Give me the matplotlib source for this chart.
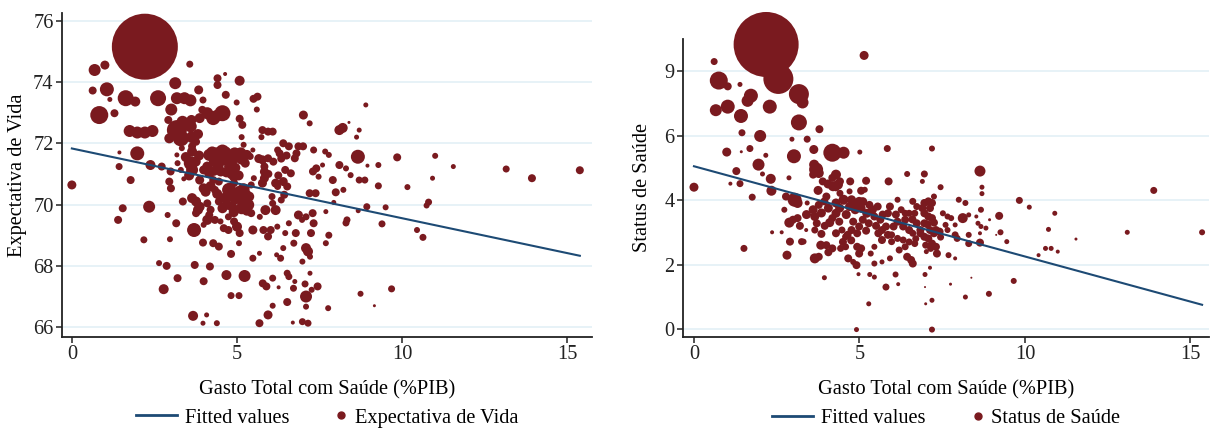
import matplotlib
matplotlib.use('Agg')
import matplotlib.pyplot as plt
from matplotlib.lines import Line2D
from matplotlib.legend_handler import HandlerLine2D

plt.rcParams['font.family'] = ['Liberation Serif', 'DejaVu Serif']

# painel 1 : gasto total com saude (%PIB) x expectativa de vida
gasto_esp = [
    2.21, 3.13, 2.61, 0.69, 1.00, 1.06, 0.63, 0.83, 1.63, 1.92,
    1.29, 1.15, 1.75, 1.98, 2.21, 2.44, 1.98, 2.38, 1.44, 1.43,
    1.78, 0.00, 2.34, 1.54, 1.40, 2.18, 2.64, 2.87, 2.78, 3.20,
    2.90, 2.97, 3.16, 3.57, 3.18, 3.41, 3.59, 3.01, 2.92, 3.62,
    3.18, 3.30, 3.64, 3.82, 2.95, 3.84, 3.97, 4.10, 4.28, 4.56,
    3.87, 3.95, 4.41, 4.41, 4.64, 5.08, 4.66, 4.99, 5.08, 5.16,
    5.14, 5.20, 5.50, 5.62, 5.60, 5.77, 5.94, 6.08, 5.74, 7.01,
    7.20, 8.10, 8.20, 8.90, 8.70, 8.62, 8.39, 8.66, 9.85, 11.00,
    11.55, 13.15, 13.93, 15.38, 9.28, 9.28, 10.16, 10.92, 10.80, 10.74,
    10.45, 10.63, 9.50, 9.39, 8.93, 8.67, 8.33, 8.30, 9.68, 8.74,
    9.16, 7.76, 7.78, 7.69, 7.69, 7.99, 8.22, 7.93, 7.90, 8.10,
    8.30, 8.44, 8.70, 8.87, 8.95, 7.78, 7.67, 7.59, 7.32, 7.47,
    7.30, 7.40, 7.20, 7.38, 7.29, 7.32, 7.24, 7.09, 7.15, 7.21,
    7.21, 7.44, 7.26, 7.06, 7.09, 7.09, 6.98, 7.15, 6.69, 5.94,
    6.08, 5.68, 6.52, 6.52, 6.57, 6.75, 6.71, 6.26, 6.08, 5.78,
    5.89, 5.48, 5.68, 6.32, 6.20, 6.40, 6.46, 6.72, 6.98, 6.78,
    6.86, 7.09, 6.97, 6.57, 6.22, 6.02, 5.94, 5.80, 5.48, 5.69,
    5.86, 6.17, 6.08, 6.06, 6.34, 6.52, 6.43, 6.23, 6.40, 6.17,
    6.63, 6.46, 6.75, 6.80, 6.86, 7.00, 6.57, 6.40, 6.29, 6.34,
    6.23, 5.94, 5.83, 5.66, 5.77, 5.83, 5.83, 5.77, 5.43, 5.51,
    5.48, 5.40, 5.25, 5.11, 5.14, 4.93, 4.79, 4.56, 4.39, 4.16,
    4.74, 4.79, 4.85, 4.91, 4.45, 4.51, 4.10, 4.16, 3.99, 3.87,
    4.28, 4.45, 3.99, 4.05, 4.33, 4.76, 4.91, 5.02, 5.08, 5.25,
    5.37, 5.16, 5.34, 5.14, 5.43, 4.85, 4.68, 4.51, 4.45, 4.56,
    4.10, 4.20, 3.64, 3.76, 3.87, 3.36, 3.82, 3.76, 4.10, 4.16,
    3.70, 3.99, 4.33, 4.50, 4.74, 4.60, 4.74, 4.91, 5.00, 5.08,
    5.06, 4.82, 4.28, 4.45, 3.97, 3.72, 4.18, 3.99, 4.68, 5.23,
    4.82, 5.06, 3.67, 4.08, 3.97, 4.39, 3.18, 3.20, 3.30, 2.99,
    2.95, 3.00, 3.64, 3.64, 3.60, 3.64, 3.76, 3.33, 2.72, 3.39,
    4.25, 4.47, 4.65, 4.87, 5.02, 5.30, 4.30, 4.60, 4.95, 5.05,
    4.68, 4.30, 4.70, 4.95, 5.20, 5.30, 4.90, 4.40, 4.20, 3.75,
    3.45, 3.55, 3.85, 3.60, 3.35, 4.40, 6.10, 6.50, 5.95, 6.25,
]
vida = [
    75.15, 73.96, 73.47, 74.39, 74.55, 73.76, 73.72, 72.92, 73.47, 73.36,
    72.98, 73.43, 72.40, 72.35, 72.35, 72.40, 71.67, 71.29, 71.70, 71.24,
    70.80, 70.64, 69.93, 69.88, 69.50, 68.85, 68.09, 68.00, 67.24, 67.60,
    69.66, 68.87, 69.39, 74.58, 73.47, 73.47, 73.40, 73.10, 72.76, 72.76,
    72.43, 72.16, 72.20, 72.30, 72.16, 73.74, 73.41, 72.98, 72.82, 72.98,
    72.82, 73.09, 74.12, 73.90, 74.26, 74.04, 73.58, 73.33, 72.80, 72.60,
    72.20, 71.95, 73.45, 73.52, 73.10, 72.43, 72.38, 72.38, 72.20, 72.92,
    72.65, 72.43, 72.50, 73.25, 72.43, 72.20, 72.68, 71.56, 71.54, 71.59,
    71.24, 71.16, 70.86, 71.12, 71.29, 70.61, 70.57, 70.86, 70.08, 69.97,
    69.17, 68.93, 69.91, 69.37, 69.93, 69.80, 69.50, 69.40, 67.25, 67.09,
    66.70, 66.62, 69.00, 68.74, 69.77, 70.40, 70.48, 70.07, 70.80, 71.29,
    71.18, 70.96, 70.80, 70.80, 71.27, 71.62, 71.73, 71.29, 71.78, 70.91,
    71.08, 71.18, 70.37, 70.37, 69.72, 69.39, 69.07, 68.58, 68.47, 68.30,
    67.76, 67.33, 67.22, 67.41, 67.00, 66.67, 66.18, 66.13, 66.15, 66.40,
    66.70, 66.13, 66.82, 67.76, 67.65, 67.49, 67.27, 67.30, 67.60, 67.43,
    67.33, 68.25, 68.41, 68.25, 68.36, 68.58, 69.07, 68.74, 68.14, 69.07,
    69.66, 69.60, 69.50, 69.39, 69.28, 69.17, 68.96, 69.17, 69.17, 69.60,
    69.82, 69.82, 70.04, 70.26, 70.15, 70.59, 70.32, 70.59, 70.75, 70.70,
    71.02, 71.13, 71.51, 71.67, 71.90, 71.90, 71.90, 72.00, 71.67, 71.50,
    71.78, 71.51, 71.24, 71.50, 71.46, 71.07, 70.86, 70.70, 70.64, 70.86,
    71.78, 71.57, 71.35, 71.67, 71.50, 71.67, 71.57, 71.73, 71.67, 71.62,
    71.40, 71.24, 71.02, 70.91, 71.29, 71.08, 71.24, 71.02, 71.13, 70.80,
    70.80, 70.75, 70.53, 70.42, 70.48, 70.48, 70.70, 70.32, 70.42, 70.32,
    70.26, 70.15, 69.99, 69.88, 69.72, 69.93, 69.99, 70.21, 70.10, 69.88,
    70.04, 69.83, 70.21, 70.10, 69.93, 70.10, 69.83, 69.72, 69.50, 69.66,
    69.17, 69.34, 69.50, 69.45, 69.60, 69.23, 69.17, 69.45, 69.28, 69.07,
    68.74, 68.39, 68.74, 68.63, 68.76, 68.03, 67.98, 67.50, 67.70, 67.67,
    67.03, 67.03, 66.37, 66.40, 66.13, 66.13, 71.62, 71.35, 71.13, 71.08,
    70.75, 70.53, 71.73, 71.90, 71.35, 71.13, 72.05, 71.84, 71.24, 70.84,
    71.70, 71.60, 71.70, 71.50, 71.62, 71.62, 71.40, 71.45, 71.20, 70.95,
    71.05, 71.10, 70.25, 70.20, 70.50, 69.80, 69.75, 70.35, 70.60, 71.40,
    71.55, 70.95, 71.60, 72.55, 72.70, 72.90, 71.40, 71.60, 71.00, 70.95,
]
# peso (populacao) de cada ponto, como diametro relativo da bolha
peso_esp = [
    66, 12, 16, 12, 9, 14, 8, 18, 16, 10,
    8, 5, 12, 12, 12, 12, 14, 10, 4, 7,
    8, 9, 12, 8, 8, 7, 6, 8, 10, 8,
    6, 6, 8, 7, 12, 12, 12, 12, 8, 10,
    20, 16, 12, 10, 10, 9, 7, 12, 14, 16,
    10, 8, 8, 8, 4, 10, 8, 6, 8, 8,
    6, 6, 8, 8, 6, 8, 8, 8, 6, 9,
    6, 10, 10, 5, 5, 5, 3, 14, 8, 6,
    5, 7, 8, 8, 6, 7, 6, 5, 7, 6,
    6, 7, 6, 7, 7, 5, 7, 7, 7, 6,
    3, 6, 7, 6, 5, 8, 6, 5, 8, 8,
    6, 6, 7, 7, 4, 6, 6, 5, 7, 6,
    8, 8, 8, 8, 8, 8, 8, 10, 10, 6,
    5, 8, 6, 7, 12, 6, 7, 7, 4, 9,
    6, 8, 8, 7, 7, 5, 7, 4, 7, 8,
    8, 7, 5, 7, 5, 6, 6, 7, 6, 8,
    9, 7, 6, 6, 6, 8, 8, 8, 9, 6,
    10, 10, 7, 7, 7, 8, 8, 7, 9, 9,
    8, 8, 8, 8, 8, 8, 8, 8, 8, 8,
    7, 8, 8, 9, 9, 9, 9, 9, 7, 6,
    5, 7, 9, 12, 12, 12, 12, 14, 12, 12,
    10, 12, 12, 10, 10, 10, 10, 10, 9, 9,
    8, 8, 10, 10, 8, 14, 8, 14, 12, 12,
    10, 12, 12, 12, 8, 10, 10, 9, 8, 10,
    8, 8, 10, 10, 10, 8, 10, 8, 10, 8,
    14, 6, 8, 6, 7, 8, 8, 8, 10, 8,
    6, 8, 8, 8, 8, 8, 8, 8, 10, 12,
    7, 7, 10, 5, 5, 6, 5, 6, 6, 8,
    8, 8, 10, 8, 14, 12, 8, 6, 8, 5,
    12, 12, 12, 12, 12, 10, 10, 10, 10, 10,
    10, 10, 12, 12, 12, 10, 10, 10, 10, 10,
    10, 10, 10, 12, 12, 12, 8, 8, 8, 8,
]
ajuste_x_esp = [0.0, 15.38]
ajuste_y_esp = [71.83, 68.33]

# painel 2 : gasto total com saude (%PIB) x status de saude
gasto_sts = [
    2.18, 2.55, 0.61, 0.75, 1.02, 1.39, 1.72, 1.62, 3.17, 3.28,
    0.66, 1.02, 2.29, 1.42, 3.17, 3.79, 1.45, 2.00, 2.96, 3.42,
    5.14, 1.69, 0.99, 1.43, 2.17, 3.02, 3.62, 4.18, 4.52, 5.01,
    5.84, 7.19, 1.95, 1.28, 2.07, 2.32, 1.39, 1.10, 0.00, 1.76,
    2.34, 2.87, 3.63, 3.69, 3.77, 3.60, 4.29, 4.18, 4.41, 4.72,
    5.20, 5.88, 6.44, 6.96, 6.90, 7.45, 8.64, 8.70, 8.70, 9.83,
    10.13, 10.90, 13.89, 13.09, 15.35, 10.71, 11.54, 10.62, 10.79, 10.99,
    10.41, 9.66, 8.91, 8.20, 8.38, 7.75, 7.19, 7.00, 7.19, 4.91,
    5.28, 5.80, 6.17, 6.98, 6.98, 7.13, 6.09, 5.45, 5.31, 4.97,
    3.94, 4.91, 4.66, 4.81, 3.65, 3.77, 2.81, 1.51, 2.36, 2.65,
    2.73, 3.04, 3.13, 2.78, 3.42, 2.88, 2.99, 3.13, 2.90, 3.25,
    3.31, 3.39, 3.65, 3.71, 3.65, 3.60, 3.77, 3.94, 3.83, 4.00,
    4.18, 4.06, 4.43, 4.58, 4.29, 4.47, 4.58, 4.29, 4.18, 4.39,
    4.06, 4.29, 4.52, 4.76, 4.99, 4.70, 4.87, 5.05, 5.22, 5.39,
    4.41, 4.29, 5.05, 5.16, 4.81, 4.99, 5.10, 5.28, 4.76, 4.93,
    4.64, 4.93, 5.05, 4.99, 5.34, 5.45, 5.68, 5.57, 5.68, 5.86,
    5.45, 5.63, 5.86, 5.92, 5.80, 6.03, 6.15, 5.97, 6.15, 5.97,
    5.92, 5.68, 5.45, 6.15, 6.26, 6.38, 6.50, 6.38, 6.32, 6.50,
    6.32, 6.38, 6.44, 6.56, 6.61, 6.67, 6.61, 6.73, 6.84, 6.96,
    6.61, 6.73, 6.67, 6.96, 7.08, 7.19, 7.13, 7.25, 6.96, 7.08,
    7.19, 6.84, 6.96, 7.08, 7.25, 7.13, 7.31, 7.42, 7.19, 7.31,
    7.34, 7.02, 7.52, 7.66, 7.77, 7.60, 7.66, 7.69, 7.89, 7.89,
    7.95, 7.89, 8.00, 8.20, 8.12, 8.30, 8.30, 8.30, 8.58, 8.67,
    8.67, 8.53, 8.82, 8.64, 8.64, 9.22, 9.26, 9.45, 9.13, 8.93,
    4.20, 4.35, 3.89, 4.00, 4.70,
    3.85, 4.10, 4.40, 4.60, 4.85, 5.10, 5.30, 5.55, 5.70, 5.50,
    5.20, 4.50, 4.75, 3.95, 3.85, 6.10, 6.60, 6.90, 7.05, 7.25,
    7.45, 6.70, 6.50, 6.20, 7.00, 7.15, 3.40, 3.20, 4.05, 3.75,
]
status = [
    8.83, 7.76, 8.30, 7.71, 7.53, 7.59, 7.24, 7.08, 7.29, 7.03,
    6.79, 6.90, 6.90, 6.61, 6.41, 6.20, 6.09, 5.99, 5.89, 5.89,
    8.49, 5.60, 5.49, 5.50, 5.39, 5.36, 5.57, 5.47, 5.47, 5.49,
    5.60, 5.60, 5.10, 4.90, 4.81, 4.66, 4.51, 4.51, 4.40, 4.09,
    4.29, 4.69, 5.10, 4.95, 4.84, 4.79, 4.79, 4.69, 4.58, 4.58,
    4.60, 4.58, 4.81, 4.81, 4.58, 4.40, 4.90, 4.40, 4.20, 3.99,
    3.78, 3.59, 4.30, 3.00, 3.00, 3.09, 2.79, 2.50, 2.50, 2.40,
    2.29, 1.49, 1.09, 0.99, 1.59, 1.39, 0.89, 0.78, -0.02, -0.02,
    0.78, 1.30, 1.39, 1.30, 1.69, 1.90, 1.69, 1.61, 1.69, 1.70,
    1.59, 1.98, 2.19, 2.08, 2.19, 2.24, 2.29, 2.50, 3.00, 3.00,
    3.70, 4.01, 3.91, 4.11, 3.91, 3.30, 3.39, 3.44, 2.71, 2.71,
    2.71, 3.07, 3.07, 3.28, 3.49, 3.70, 3.85, 3.96, 2.60, 2.60,
    2.50, 2.38, 2.50, 2.55, 2.97, 3.07, 2.86, 3.59, 3.44, 3.33,
    3.75, 3.91, 4.01, 4.01, 3.96, 3.80, 3.70, 3.75, 3.59, 3.70,
    4.21, 4.38, 4.29, 4.32, 3.33, 3.18, 3.39, 3.28, 3.07, 2.97,
    2.92, 2.55, 2.50, 2.34, 2.34, 2.55, 2.76, 2.97, 3.07, 2.92,
    3.49, 3.39, 3.59, 3.80, 3.18, 3.18, 3.33, 2.92, 2.81, 2.71,
    2.19, 2.08, 2.03, 4.01, 3.70, 3.59, 3.59, 3.39, 3.18, 3.07,
    2.76, 2.55, 2.24, 2.14, 2.03, 2.65, 2.97, 3.28, 3.07, 3.28,
    3.96, 3.80, 3.59, 3.91, 3.96, 3.91, 3.75, 4.11, 3.59, 3.49,
    3.44, 2.97, 2.86, 2.81, 2.97, 3.07, 3.07, 3.02, 2.65, 2.55,
    2.34, 2.40, 3.59, 3.49, 3.44, 3.23, 3.07, 2.29, 2.19, 2.92,
    2.81, 3.23, 4.01, 3.91, 3.44, 3.54, 2.92, 2.65, 3.28, 3.18,
    3.70, 3.49, 3.13, 2.97, 2.68, 3.51, 3.00, 2.71, 2.92, 3.39,
    4.43, 4.48, 4.58, 4.11, 4.27,
    3.60, 3.30, 3.75, 3.55, 3.90, 3.95, 3.85, 3.80, 3.55, 3.20,
    3.05, 2.70, 2.75, 3.20, 2.95, 3.55, 3.40, 3.75, 3.25, 3.30,
    2.85, 2.80, 2.70, 2.45, 2.60, 2.50, 3.55, 3.20, 4.50, 4.30,
]
peso_sts = [
    65, 30, 7, 18, 8, 5, 14, 12, 20, 12,
    12, 14, 14, 14, 16, 8, 7, 12, 5, 7,
    9, 7, 9, 3, 5, 14, 9, 18, 12, 5,
    7, 6, 12, 8, 5, 10, 7, 4, 9, 7,
    10, 5, 10, 14, 10, 8, 10, 8, 8, 8,
    8, 8, 6, 7, 5, 6, 11, 5, 5, 7,
    5, 5, 7, 5, 6, 5, 3, 5, 5, 4,
    4, 6, 6, 5, 2, 3, 5, 3, 6, 5,
    5, 7, 4, 2, 5, 4, 6, 5, 5, 4,
    5, 8, 8, 6, 10, 8, 9, 7, 4, 4,
    6, 14, 10, 8, 5, 10, 8, 8, 8, 7,
    6, 4, 7, 8, 9, 9, 8, 8, 9, 8,
    8, 8, 7, 7, 8, 7, 7, 9, 8, 8,
    9, 9, 10, 9, 9, 9, 9, 9, 9, 9,
    7, 7, 8, 6, 8, 8, 8, 8, 8, 8,
    8, 8, 8, 8, 6, 6, 8, 8, 8, 8,
    8, 8, 8, 8, 8, 8, 8, 7, 7, 7,
    6, 5, 6, 6, 7, 7, 7, 8, 8, 8,
    7, 7, 8, 8, 8, 7, 7, 8, 8, 8,
    7, 7, 7, 8, 8, 8, 8, 6, 8, 8,
    8, 8, 8, 8, 8, 8, 8, 8, 8, 8,
    8, 5, 6, 6, 6, 6, 6, 6, 4, 7,
    7, 5, 6, 6, 10, 5, 6, 7, 5, 5,
    6, 4, 5, 4, 8, 8, 6, 5, 2, 3,
    10, 10, 8, 8, 6,
    9, 9, 9, 9, 9, 9, 8, 8, 8, 8,
    8, 8, 8, 8, 8, 8, 8, 8, 8, 8,
    7, 7, 7, 7, 7, 7, 9, 8, 9, 9,
]
ajuste_x_sts = [0.0, 15.35]
ajuste_y_sts = [5.05, 0.75]

cor_ponto = '#7a1a1f'
cor_linha = '#1d4a74'
cor_grade = '#e0eff5'
fs = 14.7


class PontoLegenda(HandlerLine2D):
    # ponto encostado no texto, como na legenda do Stata
    def create_artists(self, legend, orig_handle, xdescent, ydescent, width, height, fontsize, trans):
        arts = super().create_artists(legend, orig_handle, xdescent, ydescent, width, height, fontsize, trans)
        for a in arts:
            if a.get_marker() not in (None, 'None', ''):
                a.set_xdata([width - 0.25 * fontsize])
        return arts


fig = plt.figure(figsize=(12.1, 4.3), dpi=100)
ax1 = fig.add_axes([0.0512, 0.2163, 0.4381, 0.7535])
ax2 = fig.add_axes([0.5645, 0.2163, 0.4347, 0.693])


def painel(ax, x, y, peso, ax_x, ax_y, ylab, yticks, ylabels, xlim, ylim, ylab_x, leg_y, xlab_y):
    s = [(d * 0.72) ** 2 for d in peso]
    ax.scatter(x, y, s=s, color=cor_ponto, linewidths=0, zorder=2, clip_on=False)
    ax.plot(ax_x, ax_y, color=cor_linha, lw=1.5, zorder=3)
    ax.set_xlim(xlim)
    ax.set_ylim(ylim)
    ax.set_xticks([0, 5, 10, 15])
    ax.set_yticks(yticks)
    ax.set_yticklabels(ylabels)
    for t in yticks:
        ax.axhline(t, color=cor_grade, lw=1.1, zorder=1)
    for sp in ['top', 'right']:
        ax.spines[sp].set_visible(False)
    for sp in ['left', 'bottom']:
        ax.spines[sp].set_linewidth(1.3)
        ax.spines[sp].set_color('#222222')
    ax.tick_params(direction='out', length=4, width=1.1, labelsize=fs, pad=2, colors='#222222')
    ax.set_ylabel(ylab, fontsize=fs, va='center')
    ax.yaxis.set_label_coords(ylab_x, 0.5)
    ax.set_xlabel('Gasto Total com Saúde (%PIB)', fontsize=fs, va='center')
    ax.xaxis.set_label_coords(0.5, xlab_y)
    linha = Line2D([], [], color=cor_linha, lw=2)
    ponto = Line2D([], [], color=cor_ponto, marker='o', ls='none', markersize=5)
    ax.legend([linha, ponto], ['Fitted values', ylab], loc='center', bbox_to_anchor=(0.5, leg_y),
              ncol=2, frameon=False, fontsize=fs, handlelength=2.0,
              handletextpad=0.4, columnspacing=0.8,
              handler_map={ponto: PontoLegenda()})


painel(ax1, gasto_esp, vida, peso_esp, ajuste_x_esp, ajuste_y_esp,
       'Expectativa de Vida', [66, 68, 70, 72, 74, 76], ['66', '68', '70', '72', '74', '76'],
       (-0.30, 15.75), (65.68, 76.25), -0.083, -0.25, -0.164)
painel(ax2, gasto_sts, status, peso_sts, ajuste_x_sts, ajuste_y_sts,
       'Status de Saúde', [0, 2, 4, 6, 8], ['0', '2', '4', '6', '9'],
       (-0.33, 15.56), (-0.25, 9.0), -0.078, -0.272, -0.178)

fig.savefig('out.png', dpi=100)
